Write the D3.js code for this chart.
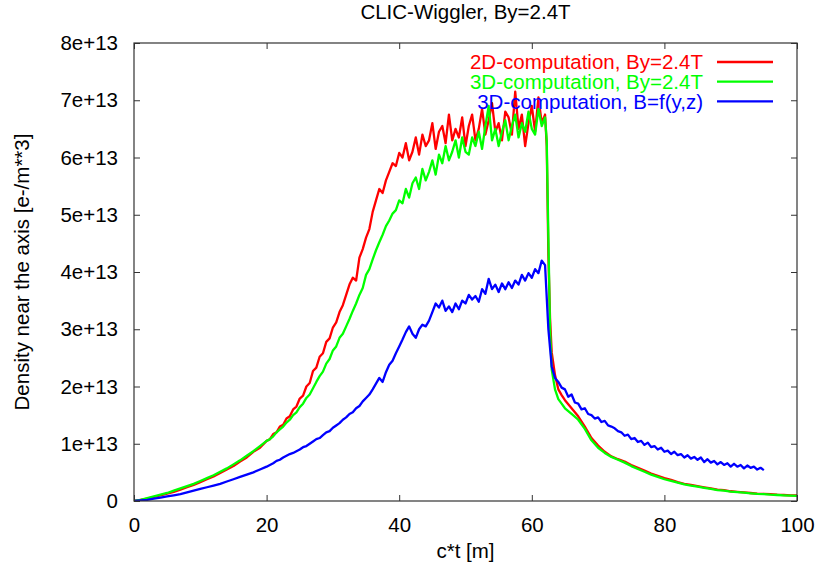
<!DOCTYPE html>
<html>
<head>
<meta charset="utf-8">
<script src="https://cdn.jsdelivr.net/npm/d3@7"></script>
<style>
  body { margin: 0; background: #fff; }
  text { font-family: "Liberation Sans", Arial, sans-serif; }
</style>
</head>
<body>
<div id="chart"></div>
<script>
// chart texts
var title = "CLIC-Wiggler, By=2.4T";
var xLabel = "c*t [m]";
var yLabel = "Density near the axis [e-/m**3]";
var seriesNames = ["2D-computation, By=2.4T", "3D-computation, By=2.4T", "3D-computation, B=f(y,z)"];
var seriesColors = ["#ff0000", "#00ff00", "#0000ff"];
var xTicks = [0, 20, 40, 60, 80, 100];
var yTicks = [0, 1e13, 2e13, 3e13, 4e13, 5e13, 6e13, 7e13, 8e13];
var yTickLabels = ["0", "1e+13", "2e+13", "3e+13", "4e+13", "5e+13", "6e+13", "7e+13", "8e+13"];

// c*t [m] for the two By=2.4T runs
var ctBy = [0,1,2,3,4,5,6,7,8,9,10,11,12,13,14,15,16,17,18,19,20,
  20.5,21,21.5,22,22.5,23,23.5,24,24.5,25,25.5,26,26.5,27,27.5,28,28.5,29,29.5,30,
  30.5,31,31.5,32,32.5,33,33.5,34,34.5,35,35.5,36,36.5,37,37.5,38,38.5,39,39.5,40,
  40.5,41,41.5,42,42.5,43,43.5,44,44.5,45,45.5,46,46.5,47,47.5,48,48.5,49,49.5,50,
  50.5,51,51.5,52,52.5,53,53.5,54,54.5,55,55.5,56,56.5,57,57.5,58,58.5,59,59.5,60,
  60.5,61,61.5,62,
  62.25,62.5,62.75,63,63.5,64,64.5,65,
  66,67,68,69,70,71,72,73,74,75,76,77,78,79,80,81,82,83,84,85,86,87,88,89,90,
  91,92,93,94,95,96,97,98,99,100];

// density in units of 1e13 e-/m^3
var dens2D = [0,0.02,0.04,0.07,0.1,0.13,0.16,0.2,0.24,0.28,0.33,0.38,0.43,0.49,0.55,0.61,0.69,0.76,0.86,0.93,1.05,
  1.08,1.17,1.2,1.3,1.33,1.44,1.48,1.6,1.65,1.79,1.84,2.0,2.06,2.27,2.33,2.52,2.58,2.78,2.84,3.03,
  3.12,3.3,3.42,3.6,3.78,3.9,3.85,4.25,4.4,4.6,4.75,5.05,5.25,5.45,5.38,5.6,5.75,5.9,5.85,6.08,
  6.0,6.25,5.95,6.1,6.35,6.05,6.4,6.2,6.3,6.6,6.15,6.45,6.55,6.25,6.75,6.3,6.5,6.35,6.7,6.2,
  6.55,6.75,6.3,6.5,6.85,6.4,6.65,6.95,6.45,6.6,6.3,6.8,6.7,6.4,7.15,6.5,6.75,6.2,6.6,6.9,
  6.45,7.05,6.6,6.75,
  6.2,4.3,3.2,2.6,2.2,1.95,1.85,1.76,
  1.62,1.48,1.3,1.1,0.97,0.86,0.78,0.73,0.69,0.63,0.58,0.53,0.48,0.44,0.4,0.37,0.33,0.3,0.28,0.26,0.24,0.22,0.2,0.19,0.17,
  0.16,0.15,0.14,0.13,0.125,0.12,0.11,0.105,0.1,0.1];

var dens3D = [0,0.02,0.05,0.08,0.11,0.14,0.18,0.22,0.26,0.3,0.35,0.4,0.45,0.51,0.57,0.64,0.71,0.79,0.87,0.96,1.05,
  1.08,1.13,1.2,1.25,1.3,1.37,1.42,1.5,1.55,1.64,1.7,1.8,1.86,1.97,2.08,2.18,2.26,2.4,2.48,2.63,
  2.7,2.85,2.92,3.05,3.18,3.32,3.45,3.6,3.72,3.95,4.05,4.22,4.38,4.52,4.65,4.8,4.9,5.02,5.08,5.25,
  5.2,5.45,5.3,5.55,5.65,5.45,5.8,5.6,5.75,5.95,5.7,6.05,5.9,6.2,5.95,6.1,6.3,6.0,6.35,6.1,
  6.05,6.35,6.2,6.45,6.15,6.55,6.9,6.3,6.5,6.2,6.45,6.65,6.3,6.55,6.75,6.35,6.6,6.45,6.8,6.5,
  6.4,6.85,6.55,6.7,
  6.3,4.6,3.0,2.3,1.95,1.78,1.7,1.62,
  1.52,1.42,1.26,1.06,0.93,0.84,0.77,0.72,0.67,0.61,0.56,0.51,0.46,0.42,0.38,0.35,0.32,0.29,0.27,0.25,0.23,0.21,0.19,0.18,0.165,
  0.155,0.145,0.135,0.125,0.12,0.11,0.105,0.1,0.095,0.09];

// c*t [m] for the B=f(y,z) run
var ctBf = [0,1,2,3,4,5,6,7,8,9,10,11,12,13,14,15,16,17,18,19,20,
  20.5,21,21.5,22,22.5,23,23.5,24,24.5,25,25.5,26,26.5,27,27.5,28,28.5,29,29.5,30,
  30.5,31,31.5,32,32.5,33,33.5,34,34.5,35,35.5,36,36.5,37,37.5,38,38.5,39,39.5,40,
  40.5,41,41.5,42,42.5,43,43.5,44,44.5,45,45.5,46,46.5,47,47.5,48,48.5,49,49.5,50,
  50.5,51,51.5,52,52.5,53,53.5,54,54.5,55,55.5,56,56.5,57,57.5,58,58.5,59,59.5,60,
  60.5,61,61.5,62,
  62.5,63,63.5,64,64.5,
  65,65.5,66,66.5,67,67.5,68,68.5,69,69.5,70,70.5,71,71.5,72,72.5,73,73.5,74,74.5,
  75,75.5,76,76.5,77,77.5,78,78.5,79,79.5,80,80.5,81,81.5,82,82.5,83,83.5,84,84.5,
  85,85.5,86,86.5,87,87.5,88,88.5,89,89.5,90,90.5,91,91.5,92,92.5,93,93.5,94,94.5,95];

var densBf = [0,0.01,0.02,0.04,0.06,0.08,0.1,0.12,0.15,0.18,0.21,0.24,0.27,0.3,0.34,0.38,0.42,0.46,0.5,0.55,0.6,
  0.63,0.66,0.7,0.72,0.76,0.79,0.82,0.84,0.87,0.9,0.94,0.96,1.0,1.04,1.08,1.1,1.15,1.2,1.22,1.28,
  1.32,1.36,1.42,1.46,1.52,1.55,1.62,1.66,1.74,1.8,1.86,1.95,2.05,2.15,2.08,2.25,2.38,2.45,2.58,2.7,
  2.82,2.95,3.05,2.92,2.85,3.0,3.08,3.05,3.15,3.3,3.45,3.38,3.5,3.32,3.4,3.3,3.45,3.35,3.5,3.45,
  3.6,3.52,3.58,3.48,3.7,3.62,3.88,3.7,3.78,3.65,3.8,3.7,3.82,3.72,3.85,3.78,3.95,3.85,3.98,3.9,
  4.05,3.98,4.2,4.12,
  3.0,2.35,2.15,2.08,1.98,
  1.95,1.82,1.86,1.72,1.7,1.6,1.62,1.52,1.5,1.44,1.46,1.38,1.4,1.32,1.3,1.27,1.22,1.2,1.14,1.16,
  1.08,1.1,1.03,1.05,0.98,1.02,0.94,0.96,0.9,0.93,0.86,0.88,0.82,0.86,0.8,0.82,0.76,0.8,0.74,0.77,
  0.72,0.76,0.68,0.73,0.67,0.7,0.64,0.68,0.63,0.66,0.6,0.65,0.6,0.63,0.57,0.62,0.58,0.6,0.55,0.58,0.54];

var unit = 1e13;

//set up svg
var width = 819, height = 566;
var margin = {left: 134, right: 22, top: 43, bottom: 65};
var plotW = width - margin.left - margin.right;
var plotH = height - margin.top - margin.bottom;

var svg = d3.select("#chart").append("svg")
    .attr("width", width)
    .attr("height", height);

var g = svg.append("g")
    .attr("transform", "translate(" + margin.left + "," + margin.top + ")");

//set the ranges
var x = d3.scaleLinear().domain([0, 100]).range([0, plotW]);
var y = d3.scaleLinear().domain([0, 8e13]).range([plotH, 0]);

//series table built from the arrays
var series = [
  {name: seriesNames[0], color: seriesColors[0], xs: ctBy, ys: dens2D},
  {name: seriesNames[1], color: seriesColors[1], xs: ctBy, ys: dens3D},
  {name: seriesNames[2], color: seriesColors[2], xs: ctBf, ys: densBf}
];

var line = d3.line()
    .x(function(d) { return x(d[0]); })
    .y(function(d) { return y(d[1] * unit); });

g.append("clipPath").attr("id", "clip")
  .append("rect").attr("width", plotW).attr("height", plotH);

//draw lines (red first, blue last)
series.forEach(function(s) {
  var pts = s.xs.map(function(v, i) { return [v, s.ys[i]]; });
  g.append("path")
    .datum(pts)
    .attr("fill", "none")
    .attr("stroke", s.color)
    .attr("stroke-width", 2.3)
    .attr("stroke-linejoin", "round")
    .attr("clip-path", "url(#clip)")
    .attr("d", line);
});

//axes with inward ticks, mirrored on top and right
var tickColor = "#333";
var fontSize = "20.5px";

var xAxis = g.append("g")
    .attr("transform", "translate(0," + plotH + ")")
    .call(d3.axisBottom(x).tickValues(xTicks).tickSizeInner(-6).tickSizeOuter(0).tickPadding(16));
var xTop = g.append("g")
    .call(d3.axisTop(x).tickValues(xTicks).tickSizeInner(-6).tickSizeOuter(0).tickFormat(""));
var yAxis = g.append("g")
    .call(d3.axisLeft(y).tickValues(yTicks).tickSizeInner(-6).tickSizeOuter(0).tickPadding(16)
      .tickFormat(function(d, i) { return yTickLabels[i]; }));
var yRight = g.append("g")
    .attr("transform", "translate(" + plotW + ",0)")
    .call(d3.axisRight(y).tickValues(yTicks).tickSizeInner(-6).tickSizeOuter(0).tickFormat(""));

[xAxis, xTop, yAxis, yRight].forEach(function(a) {
  a.select(".domain").remove();
  a.selectAll("line").attr("stroke", tickColor);
  a.selectAll("text")
    .attr("fill", "#000")
    .style("font-family", "'Liberation Sans', Arial, sans-serif")
    .style("font-size", fontSize);
});

//frame
g.append("rect")
    .attr("width", plotW)
    .attr("height", plotH)
    .attr("fill", "none")
    .attr("stroke", tickColor)
    .attr("stroke-width", 1.2);

//title and axis labels
svg.append("text")
    .attr("x", margin.left + plotW / 2)
    .attr("y", 19)
    .attr("text-anchor", "middle")
    .style("font-size", fontSize)
    .text(title);

svg.append("text")
    .attr("x", margin.left + plotW / 2)
    .attr("y", 558)
    .attr("text-anchor", "middle")
    .style("font-size", fontSize)
    .text(xLabel);

svg.append("text")
    .attr("transform", "translate(29," + (margin.top + plotH / 2) + ") rotate(-90)")
    .attr("text-anchor", "middle")
    .style("font-size", fontSize)
    .text(yLabel);

//legend
var legend = svg.append("g");
series.forEach(function(s, i) {
  var ly = 62 + i * 19.7;
  legend.append("text")
    .attr("x", 703)
    .attr("y", ly)
    .attr("dy", "0.35em")
    .attr("text-anchor", "end")
    .attr("fill", s.color)
    .style("font-size", fontSize)
    .text(s.name);
  legend.append("line")
    .attr("x1", 717).attr("x2", 773)
    .attr("y1", ly).attr("y2", ly)
    .attr("stroke", s.color)
    .attr("stroke-width", 2.3);
});
</script>
</body>
</html>
